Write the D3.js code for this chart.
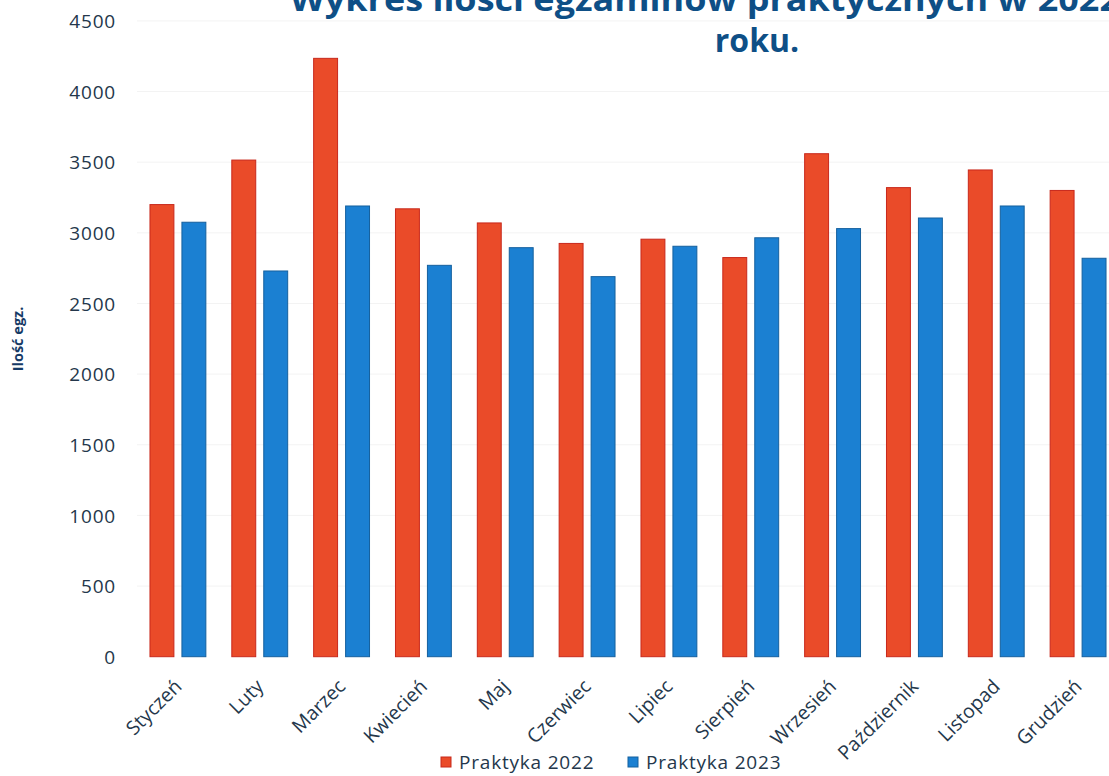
<!DOCTYPE html>
<html>
<head>
<meta charset="utf-8">
<script src="https://cdn.jsdelivr.net/npm/d3@7/dist/d3.min.js"></script>
<style>
  html, body { margin: 0; padding: 0; background: #fff; }
  svg { display: block; }
</style>
</head>
<body>
<svg id="chart" width="1109" height="776"></svg>
<script>
const months = ["Styczeń","Luty","Marzec","Kwiecień","Maj","Czerwiec","Lipiec","Sierpień","Wrzesień","Październik","Listopad","Grudzień"];
const seriesNames = ["Praktyka 2022","Praktyka 2023"];
const values2022 = [3200, 3515, 4235, 3170, 3070, 2925, 2955, 2825, 3560, 3320, 3445, 3300];
const values2023 = [3075, 2730, 3190, 2770, 2895, 2690, 2905, 2965, 3030, 3105, 3190, 2820];
const yTicks = [0, 500, 1000, 1500, 2000, 2500, 3000, 3500, 4000, 4500];
const titleLines = ["Wykres ilości egzaminów praktycznych w 2022", "roku."];
const yAxisTitle = "Ilość egz.";

const colors = { fill: ["#ea4b29", "#1b80d2"], stroke: ["#c8281b", "#15609e"] };
const seriesValues = [values2022, values2023];
const textColor = "#24374b";

const svg = d3.select("#chart");
const W = 1109, H = 776;
const plot = { left: 137, right: 1119, top: 20.9, bottom: 656.7 };

const x0 = d3.scaleBand().domain(months).range([plot.left, plot.right])
  .paddingInner(0.305).paddingOuter(0.1525);
const x1 = d3.scaleBand().domain(seriesNames).range([0, x0.bandwidth()]).paddingInner(0.22);
const y = d3.scaleLinear().domain([0, 4500]).range([plot.bottom, plot.top]);

// gridlines
svg.append("g").selectAll("line").data(yTicks.slice(1)).join("line")
  .attr("x1", plot.left).attr("x2", W)
  .attr("y1", d => y(d)).attr("y2", d => y(d))
  .attr("stroke", "#f3f3f3").attr("stroke-width", 1);

// y axis
const yAxis = d3.axisLeft(y).tickValues(yTicks).tickFormat(d3.format("d")).tickSize(0).tickPadding(0);
const gy = svg.append("g").attr("transform", "translate(116,0)").call(yAxis);
gy.select(".domain").remove();
gy.selectAll("text")
  .attr("font-family", "'Open Sans', sans-serif").attr("font-size", 19)
  .attr("letter-spacing", 0.8)
  .attr("fill", textColor).attr("dy", "0.35em");

// bars
const groups = svg.append("g").selectAll("g").data(months).join("g")
  .attr("transform", d => `translate(${x0(d)},0)`);
groups.selectAll("rect")
  .data((m, i) => seriesNames.map((s, k) => ({ s, k, v: seriesValues[k][i] })))
  .join("rect")
  .attr("x", d => x1(d.s) + 0.5)
  .attr("width", x1.bandwidth() - 1)
  .attr("y", d => y(d.v))
  .attr("height", d => y(0) - y(d.v))
  .attr("fill", d => colors.fill[d.k])
  .attr("stroke", d => colors.stroke[d.k]).attr("stroke-width", 1);

// x axis labels
const xAxis = d3.axisBottom(x0).tickSize(0).tickPadding(0);
const gx = svg.append("g").attr("transform", `translate(0,${plot.bottom})`).call(xAxis);
gx.select(".domain").remove();
gx.selectAll("text")
  .attr("font-family", "'Open Sans', sans-serif").attr("font-size", 19.5)
  .attr("fill", textColor)
  .attr("text-anchor", "end")
  .attr("dy", "0")
  .attr("transform", "translate(5,31) rotate(-45)");

// y axis title
svg.append("text")
  .attr("transform", "translate(23,339) rotate(-90)")
  .attr("text-anchor", "middle")
  .attr("font-family", "'Open Sans', sans-serif").attr("font-weight", "bold")
  .attr("font-size", 14.5).attr("fill", "#163a66")
  .text(yAxisTitle);

// title
const title = svg.append("text")
  .attr("font-family", "'Open Sans', sans-serif").attr("font-weight", "bold")
  .attr("font-size", 32).attr("fill", "#0e4f86");
title.append("tspan").attr("x", 290).attr("y", 11)
  .attr("textLength", 830).attr("lengthAdjust", "spacingAndGlyphs").text(titleLines[0]);
title.append("tspan").attr("x", 757).attr("y", 52)
  .attr("text-anchor", "middle").text(titleLines[1]);

// legend
const legend = svg.append("g").attr("transform", "translate(441,753)");
const legendOffsets = [0, 187];
seriesNames.forEach((s, k) => {
  const g = legend.append("g").attr("transform", `translate(${legendOffsets[k]},0)`);
  g.append("rect").attr("x", 0).attr("y", 4).attr("width", 10).attr("height", 10)
    .attr("fill", colors.fill[k]).attr("stroke", colors.stroke[k]);
  g.append("text").attr("x", 18).attr("y", 16)
    .attr("font-family", "'Open Sans', sans-serif").attr("font-size", 19)
    .attr("letter-spacing", 0.8)
    .attr("fill", textColor).text(s);
});
</script>
</body>
</html>
